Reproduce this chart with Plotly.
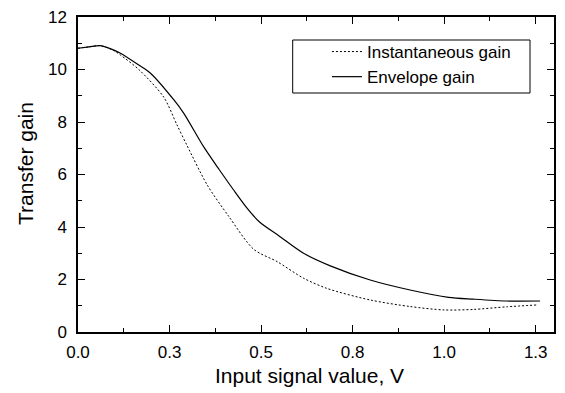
import plotly.graph_objects as go

# Data
env_x = [0.0, 0.03, 0.061, 0.098, 0.116, 0.166, 0.198, 0.262, 0.289, 0.343,
         0.385, 0.425, 0.46, 0.495, 0.55, 0.616, 0.689, 0.798, 0.907, 1.012, 1.08, 1.171, 1.262]
env_y = [10.81, 10.86, 10.91, 10.74, 10.62, 10.17, 9.86, 8.84, 8.33, 7.06,
         6.2, 5.41, 4.75, 4.2, 3.65, 3.0, 2.52, 1.98, 1.6, 1.32, 1.25, 1.18, 1.18]

inst_x = [0.0, 0.03, 0.061, 0.098, 0.116, 0.166, 0.234, 0.27, 0.298, 0.353,
          0.412, 0.48, 0.544, 0.616, 0.68, 0.798, 0.907, 1.0, 1.08, 1.171, 1.253]
inst_y = [10.81, 10.86, 10.91, 10.72, 10.55, 10.0, 8.95, 7.9, 7.1, 5.6,
          4.4, 3.15, 2.68, 2.05, 1.66, 1.22, 0.97, 0.84, 0.86, 0.96, 1.03]

x_tickvals = [0.0, 0.25, 0.5, 0.75, 1.0, 1.25]
x_ticktext = ["0.0", "0.3", "0.5", "0.8", "1.0", "1.3"]
y_tickvals = [0, 2, 4, 6, 8, 10, 12]

FONT = "Liberation Sans, Arial, sans-serif"

fig = go.Figure()
fig.add_trace(go.Scatter(x=inst_x, y=inst_y, mode="lines", name="Instantaneous gain",
                         line=dict(color="black", width=1, dash="2px,2px", shape="spline",
                                   smoothing=0.8)))
fig.add_trace(go.Scatter(x=env_x, y=env_y, mode="lines", name="Envelope gain",
                         line=dict(color="black", width=1.2, shape="spline", smoothing=0.8)))

axis_common = dict(
    showgrid=False, zeroline=False, showline=True, linecolor="black", linewidth=1.5,
    mirror="allticks", ticks="inside", ticklen=7, tickwidth=1, tickcolor="black",
    tickfont=dict(family=FONT, size=17, color="black"), automargin=False,
)

fig.update_xaxes(range=[0, 1.3], tickvals=x_tickvals, ticktext=x_ticktext,
                 minor=dict(ticks="inside", ticklen=4, dtick=0.125, tick0=0, tickcolor="black"),
                 ticklabelstandoff=4,
                 **axis_common)
fig.update_yaxes(range=[0, 12], tickvals=y_tickvals,
                 minor=dict(ticks="inside", ticklen=4, dtick=1, tick0=0, tickcolor="black"),
                 ticklabelstandoff=6,
                 **axis_common)

PW, PH, L, T = 476, 315, 78, 17

fig.update_layout(
    width=565, height=393,
    margin=dict(l=L, r=565 - L - PW, t=T, b=393 - T - PH),
    paper_bgcolor="white", plot_bgcolor="white",
    showlegend=True,
    legend=dict(x=0.523, y=0.946, xanchor="left", yanchor="top",
                bgcolor="rgba(0,0,0,0)", borderwidth=0,
                font=dict(family=FONT, size=17, color="black"),
                tracegroupgap=0, itemwidth=30),
    shapes=[dict(type="rect", xref="paper", yref="paper",
                 x0=(292.7 - L) / PW, x1=(530 - L) / PW,
                 y0=(332 - 93) / PH, y1=(332 - 40) / PH,
                 line=dict(color="black", width=1))],
    annotations=[
        dict(text="Input signal value, V", xref="paper", yref="paper",
             x=(309.5 - L) / PW, y=(332 - 375) / PH, xanchor="center", yanchor="middle",
             showarrow=False, font=dict(family=FONT, size=21, color="black")),
        dict(text="Transfer gain", xref="paper", yref="paper",
             x=(25 - L) / PW, y=(332 - 164) / PH, xanchor="center", yanchor="middle",
             textangle=-90, showarrow=False, font=dict(family=FONT, size=21, color="black")),
    ],
)

fig.write_html("out.html")
